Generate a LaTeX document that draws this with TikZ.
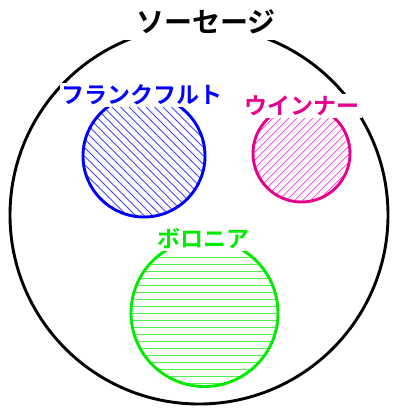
\documentclass[tikz,border=0pt]{standalone}
\usepackage{fontspec}
\newfontfamily\jp{Noto Sans CJK JP}[BoldFont={Noto Sans CJK JP Bold}]
\definecolor{fblue}{RGB}{0,0,255}
\definecolor{hblue}{RGB}{70,70,255}
\definecolor{wpink}{RGB}{230,0,140}
\definecolor{hpink}{RGB}{255,80,230}
\definecolor{bgreen}{RGB}{0,235,0}
\definecolor{hgreen}{RGB}{80,240,80}
\begin{document}
\begin{tikzpicture}[x=1pt,y=-1pt,
  ring/.style={line width=2.9pt},
  hatch/.style={line width=1pt},
  lbl/.style={fill=white, inner sep=2pt}]
\useasboundingbox (0,0) rectangle (398,413);
% outer
\draw[ring,black] (199,215) circle (189);
% blue
\begin{scope}
\clip (144,156) circle (61);
\foreach \k in {-136,-127.5,...,136} {
  \draw[hatch,hblue] (144+\k-80,156-80) -- (144+\k+80,156+80);
}
\end{scope}
\draw[ring,fblue] (144,156) circle (61);
% pink
\begin{scope}
\clip (301.5,153.5) circle (48.5);
\foreach \k in {-112,-104,...,112} {
  \draw[hatch,hpink] (301.5+\k-70,153.5+70) -- (301.5+\k+70,153.5-70);
}
\end{scope}
\draw[ring,wpink] (301.5,153.5) circle (48.5);
% green
\begin{scope}
\clip (204.5,313) circle (73.5);
\foreach \k in {-77,-70,...,77} {
  \draw[hatch,hgreen] (120,313+\k) -- (290,313+\k);
}
\end{scope}
\draw[ring,bgreen] (204.5,313) circle (73.5);
% labels
\node[lbl,inner xsep=12pt,inner ysep=6pt,font=\jp\bfseries\fontsize{28}{30}\selectfont,text=black] (t) at (206,22) {ソーセージ};
\node[lbl,font=\jp\bfseries\fontsize{23}{25}\selectfont,text=fblue] (f) at (142,95) {フランクフルト};
\node[lbl,font=\jp\bfseries\fontsize{23}{25}\selectfont,text=wpink] (w) at (302,106) {ウインナー};
\node[lbl,font=\jp\bfseries\fontsize{23}{25}\selectfont,text=bgreen] (b) at (203,239) {ボロニア};
\end{tikzpicture}
\end{document}
